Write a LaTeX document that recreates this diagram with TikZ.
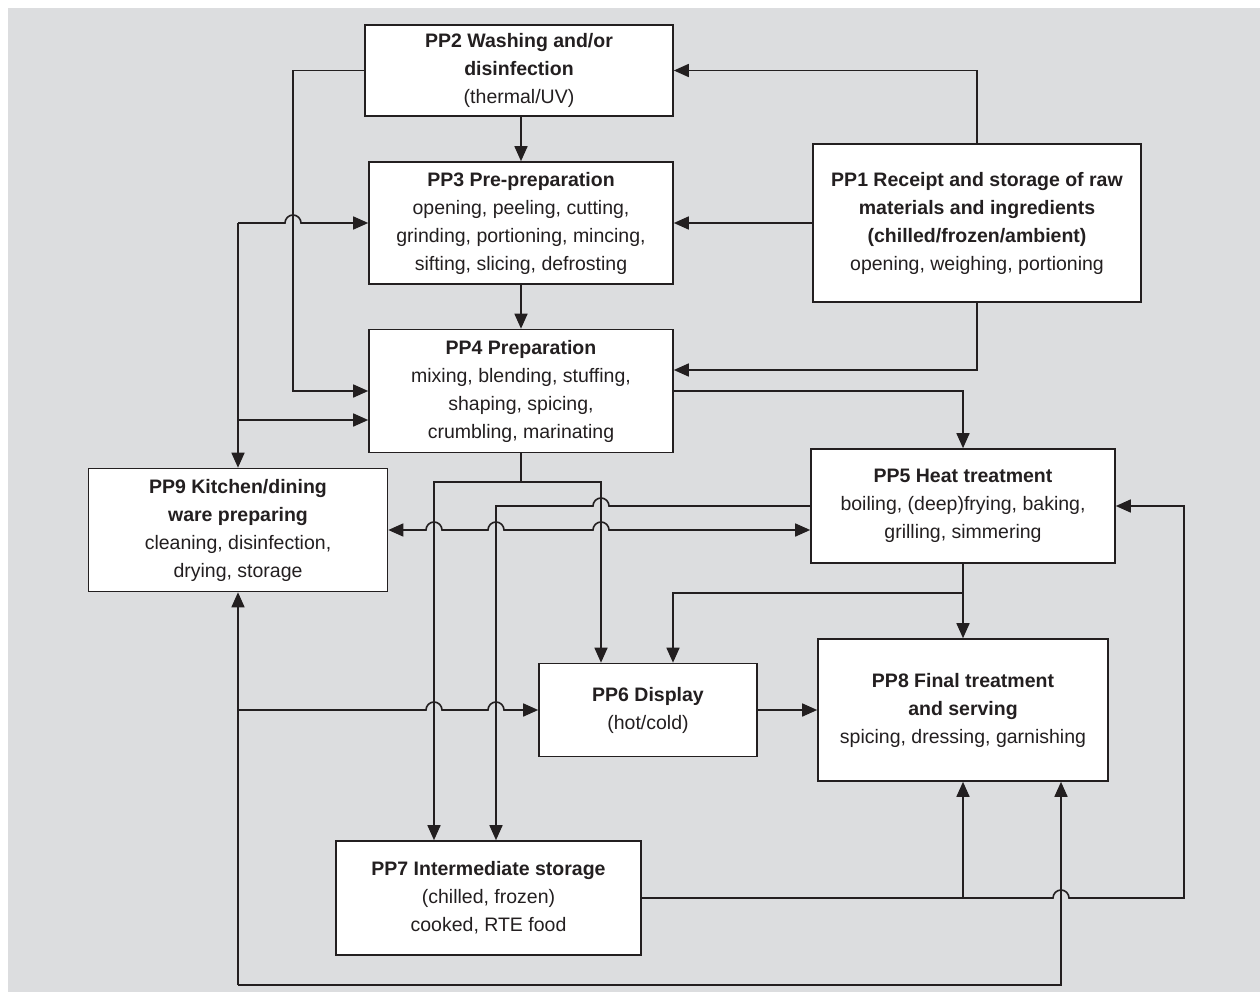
\documentclass[tikz,border=0pt]{standalone}
\usepackage{fontspec}
\setmainfont{Liberation Sans}
\usetikzlibrary{arrows.meta,calc}
\definecolor{bggrey}{RGB}{220,221,223}
\definecolor{ink}{RGB}{35,31,32}
% line hops over a vertical connector
\newcommand{\hopr}[1]{-- ($#1+(-8,0)$) arc[start angle=180,end angle=0,radius=8pt]}
\newcommand{\hopl}[1]{-- ($#1+(8,0)$) arc[start angle=0,end angle=180,radius=8pt]}
\tikzset{
  box/.style={draw=ink, fill=white, text=ink, line width=1.6pt, align=center, inner sep=0pt,
    font=\fontsize{19.5}{28}\selectfont},
  flow/.style={draw=ink, line width=1.6pt},
  arr/.style={flow, -{Triangle[length=15pt,width=13pt]}},
  dblarr/.style={flow, {Triangle[length=15pt,width=13pt]}-{Triangle[length=15pt,width=13pt]}}
}
\begin{document}
\begin{tikzpicture}[x=1pt,y=-1pt]
\useasboundingbox (0,0) rectangle (1260,992);
\fill[bggrey] (8,8) rectangle (1260,992);

% process steps
\node[box, minimum width=308pt, minimum height=91pt] (pp2) at (519,70.5)
  {\textbf{PP2 Washing and/or}\\\textbf{disinfection}\\(thermal/UV)};
\node[box, minimum width=304pt, minimum height=122pt] (pp3) at (521,223)
  {\textbf{PP3 Pre-preparation}\\opening, peeling, cutting,\\grinding, portioning, mincing,\\sifting, slicing, defrosting};
\node[box, minimum width=328pt, minimum height=158pt] (pp1) at (977,223)
  {\textbf{PP1 Receipt and storage of raw}\\\textbf{materials and ingredients}\\\textbf{(chilled/frozen/ambient)}\\opening, weighing, portioning};
\node[box, minimum width=304pt, minimum height=123pt] (pp4) at (521,391)
  {\textbf{PP4 Preparation}\\mixing, blending, stuffing,\\shaping, spicing,\\crumbling, marinating};
\node[box, minimum width=304pt, minimum height=114pt] (pp5) at (963,506)
  {\textbf{PP5 Heat treatment}\\boiling, (deep)frying, baking,\\grilling, simmering};
\node[box, minimum width=299pt, minimum height=123pt] (pp9) at (238,530)
  {\textbf{PP9 Kitchen/dining}\\\textbf{ware preparing}\\cleaning, disinfection,\\drying, storage};
\node[box, minimum width=218pt, minimum height=93pt] (pp6) at (648,710)
  {\textbf{PP6 Display}\\(hot/cold)};
\node[box, minimum width=290pt, minimum height=142pt] (pp8) at (963,710)
  {\textbf{PP8 Final treatment}\\\textbf{and serving}\\spicing, dressing, garnishing};
\node[box, minimum width=305pt, minimum height=114pt] (pp7) at (488.5,898)
  {\textbf{PP7 Intermediate storage}\\(chilled, frozen)\\cooked, RTE food};

% bus lines and branch points
\coordinate (wbus) at (293,0);
\coordinate (busA) at (434,0);
\coordinate (busB) at (496,0);
\coordinate (busC) at (601,0);
\coordinate (busD) at (673,0);
\coordinate (busE) at (1061,0);
\coordinate (busF) at (1184,0);
\coordinate (split4) at (521,482);
\coordinate (split5) at (963,593);
\coordinate (base) at (238,985);
\coordinate (low4) at ([yshift=-29pt]pp4.west);
\coordinate (in4) at ([yshift=21pt]pp4.east);
\coordinate (dbl5) at ([yshift=-24pt]pp5.west);

% connectors
\draw[arr] (pp2.south -| pp3.north) -- (pp3.north);
\draw[arr] (pp1.north) |- (pp2.east);
\draw[arr] (pp1.west) -- (pp3.east);
\draw[arr] (pp1.south) |- (in4);
\draw[arr] (pp3.south) -- (pp4.north);
\draw[arr] (pp4.east) -| (pp5.north);
\draw[arr] (pp2.west) -- (pp2.west -| wbus) -- (pp4.west -| wbus) -- (pp4.west);
\draw[arr] (pp9.north |- pp3.west) \hopr{(wbus |- pp3.west)} -- (pp3.west);
\draw[arr] (pp9.north |- pp3.west) -- (pp9.north);
\draw[arr] (pp9.north |- low4) -- (low4);
\draw[flow] (pp4.south) -- (split4);
\draw[arr] (split4) -| (busA |- pp7.north);
\draw[arr] (split4) -| (busC |- pp6.north);
\draw[arr] (pp5.west) \hopl{(busC |- pp5.west)} -| (busB |- pp7.north);
\draw[dblarr] (pp9.east |- dbl5) \hopr{(busA |- dbl5)} \hopr{(busB |- dbl5)} \hopr{(busC |- dbl5)} -- (dbl5);
\draw[flow] (pp5.south) -- (split5);
\draw[arr] (split5) -- (pp8.north);
\draw[arr] (split5) -| (busD |- pp6.north);
\draw[arr] (pp6.east) -- (pp8.west);
\draw[arr] (base) -- (pp9.south);
\draw[arr] (pp9.south |- pp6.west) \hopr{(busA |- pp6.west)} \hopr{(busB |- pp6.west)} -- (pp6.west);
\draw[arr] (base) -| (busE |- pp8.south);
\draw[arr] (pp7.east) \hopr{(busE |- pp7.east)} -| (busF |- pp5.east) -- (pp5.east);
\draw[arr] (pp8.south |- pp7.east) -- (pp8.south);
\end{tikzpicture}
\end{document}
